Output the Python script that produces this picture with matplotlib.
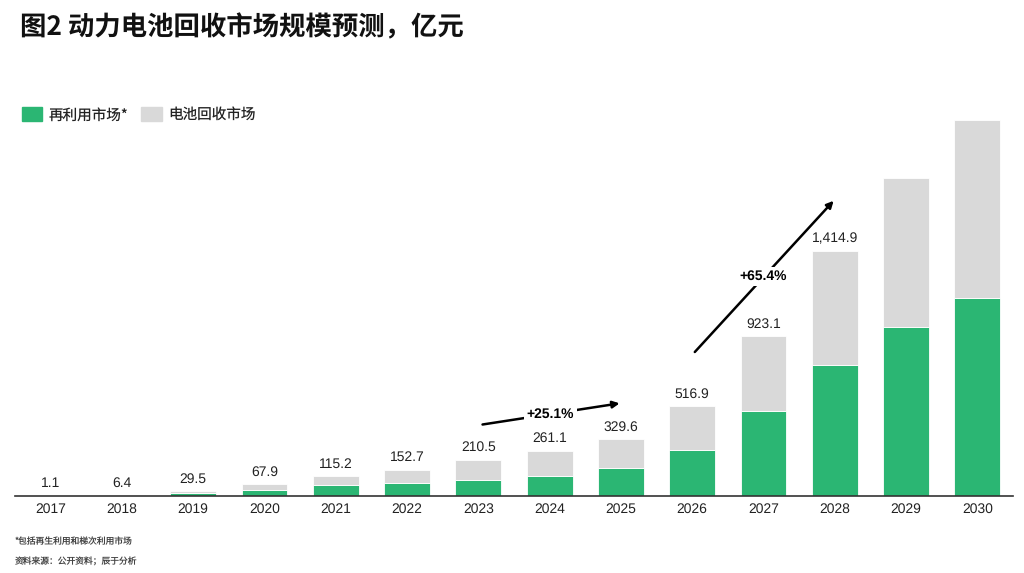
import matplotlib
matplotlib.use('Agg')
import matplotlib.pyplot as plt
import numpy as np

plt.rcParams['font.family'] = ['Liberation Sans', 'Noto Sans CJK SC']
plt.rcParams['text.hinting'] = 'no_hinting'

years = ['2017', '2018', '2019', '2020', '2021', '2022', '2023',
         '2024', '2025', '2026', '2027', '2028', '2029', '2030']
# 再利用市场 (green) and 电池回收市场 (grey), 亿元
reuse = [0.6, 4.0, 20, 35, 62, 73, 95, 116, 160, 265, 490, 756, 975, 1142]
recycle = [0.5, 2.4, 9.5, 32.9, 53.2, 79.7, 115.5, 145.1, 169.6, 251.9, 433.1, 658.9, 860, 1028]
total_labels = ['1.1', '6.4', '29.5', '67.9', '115.2', '152.7', '210.5',
                '261.1', '329.6', '516.9', '923.1', '1,414.9', '', '']

GREEN = '#2bb673'
GREY = '#d9d9d9'
CJK = ['Noto Sans CJK SC', 'DejaVu Sans']

fig = plt.figure(figsize=(10.24, 5.73), dpi=100)
ax = fig.add_axes([15 / 1024, 1 - 496 / 573, 998 / 1024, 386 / 573])

x = np.arange(len(years))
totals = np.array(reuse) + np.array(recycle)
ax.bar(x, reuse, width=0.645, color=GREEN, edgecolor='white', linewidth=0.6)
ax.bar(x, recycle, bottom=reuse, width=0.645, color=GREY, edgecolor='white', linewidth=0.6)

for xi, t, lab in zip(x, totals, total_labels):
    if lab:
        ax.annotate(lab, (xi, t), xytext=(0, 4), textcoords='offset points',
                    ha='center', va='bottom', fontsize=10, color='#222222')

ax.set_xlim(-0.5, 13.5)
ax.set_ylim(0, 2227)
ax.set_xticks(x)
ax.set_xticklabels(years, fontsize=10, color='#222222')
ax.tick_params(axis='x', length=0, pad=5)
ax.set_yticks([])
for s in ['top', 'right', 'left']:
    ax.spines[s].set_visible(False)
ax.spines['bottom'].set_color('#333333')
ax.spines['bottom'].set_linewidth(1.2)

# growth arrows
arrow = dict(arrowstyle='-|>', color='black', lw=1.8, mutation_scale=10)
ax.annotate('', xy=(8.02, 537), xytext=(6.02, 410), arrowprops=arrow)
ax.text(7.01, 473, '+25.1%', ha='center', va='center', fontsize=10, fontweight='bold',
        bbox=dict(facecolor='white', edgecolor='none', pad=2))
ax.annotate('', xy=(11.01, 1715), xytext=(9.01, 819), arrowprops=arrow)
ax.text(10.0, 1265, '+65.4%', ha='center', va='center', fontsize=10, fontweight='bold',
        bbox=dict(facecolor='white', edgecolor='none', pad=2))

# title, legend, notes
fig.text(20 / 1024, 1 - 28 / 573, '图2 动力电池回收市场规模预测，亿元', family=CJK,
         fontsize=19, fontweight='bold', va='center', ha='left', color='#111111')

fig.patches.append(plt.Rectangle((22 / 1024, 1 - 121 / 573), 20 / 1024, 14 / 573,
                                 transform=fig.transFigure, color=GREEN))
fig.text(49 / 1024, 1 - 115 / 573, '再利用市场*', family=CJK, fontsize=10.5,
         va='center', ha='left', color='#222222')
fig.patches.append(plt.Rectangle((141 / 1024, 1 - 121 / 573), 21 / 1024, 14 / 573,
                                 transform=fig.transFigure, color=GREY))
fig.text(168 / 1024, 1 - 115 / 573, '电池回收市场', family=CJK, fontsize=10.5,
         va='center', ha='left', color='#222222')

fig.text(15 / 1024, 1 - 542 / 573, '*包括再生利用和梯次利用市场', family=CJK, fontsize=6.3,
         va='center', ha='left', color='#444444')
fig.text(15 / 1024, 1 - 562 / 573, '资料来源：公开资料；辰于分析', family=CJK, fontsize=6.3,
         va='center', ha='left', color='#444444')

fig.savefig('out.png', dpi=100)
